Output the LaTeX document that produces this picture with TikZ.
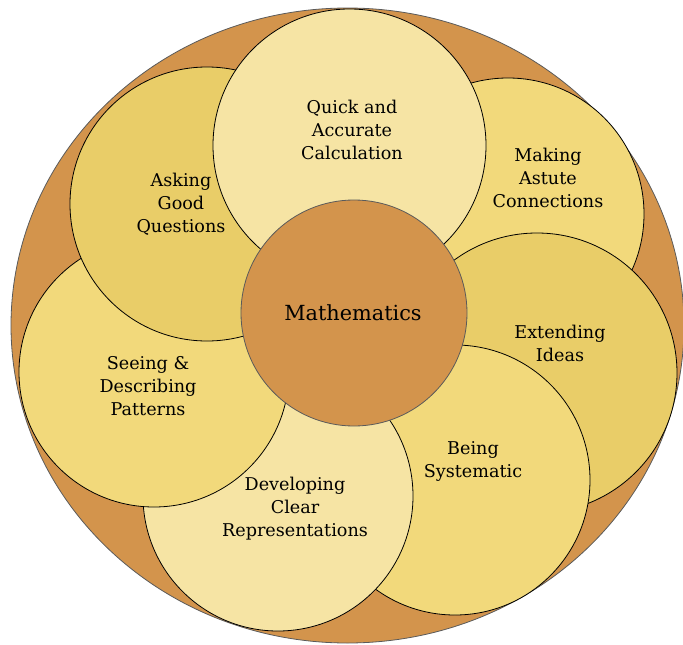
\documentclass[tikz,border=0pt]{standalone}
\usepackage{fontspec}
\usetikzlibrary{shapes.geometric}
\setmainfont{DejaVu Serif}
\definecolor{outerc}{HTML}{D3944C}
\definecolor{lightc}{HTML}{F6E4A4}
\definecolor{midc}{HTML}{F2D97B}
\definecolor{darkc}{HTML}{E9CD68}
\definecolor{edgegray}{HTML}{5A5A5A}
\tikzset{
  petal/.style={circle, draw=black, line width=0.8pt, inner sep=0pt},
  lbl/.style={align=center, font=\fontsize{17.6}{23}\selectfont, inner sep=0pt},
}
\begin{document}
\begin{tikzpicture}[x=1pt,y=-1pt]
\useasboundingbox (0,0) rectangle (683,645);
\node[ellipse, draw=edgegray, fill=outerc, line width=0.8pt, minimum width=673pt, minimum height=635pt, inner sep=0pt] (outer) at (347.5,325.5) {};
% petals in stacking order
\node[petal, fill=midc,   minimum size=272pt] (pmak) at (508,214) {};
\node[petal, fill=darkc,  minimum size=280pt] (pext) at (537,373) {};
\node[petal, fill=midc,   minimum size=270pt] (pbei) at (455,480) {};
\node[petal, fill=lightc, minimum size=270pt] (pdev) at (278,496) {};
\node[petal, fill=midc,   minimum size=270pt] (psee) at (154,372) {};
\node[petal, fill=darkc,  minimum size=274pt] (pask) at (207,204) {};
\node[petal, fill=lightc, minimum size=273pt] (pqui) at (349.5,145.5) {};
\node[circle, draw=edgegray, fill=outerc, line width=0.8pt, minimum size=226pt, inner sep=0pt] (pmath) at (354,313) {};
% labels
\node[lbl] (tqui) at (352,130) {Quick and\\Accurate\\Calculation};
\node[lbl] (tmak) at (548,178) {Making\\Astute\\Connections};
\node[lbl] (task) at (181,204) {Asking\\Good\\Questions};
\node[align=center, font=\fontsize{20.8}{24}\selectfont, inner sep=0pt] (tmath) at (353,313) {Mathematics};
\node[lbl] (text) at (560,343) {Extending\\Ideas};
\node[lbl] (tsee) at (148,386) {Seeing \&\\Describing\\Patterns};
\node[lbl] (tbei) at (473,461) {Being\\Systematic};
\node[lbl] (tdev) at (295,509) {Developing\\Clear\\Representations};
\end{tikzpicture}
\end{document}
